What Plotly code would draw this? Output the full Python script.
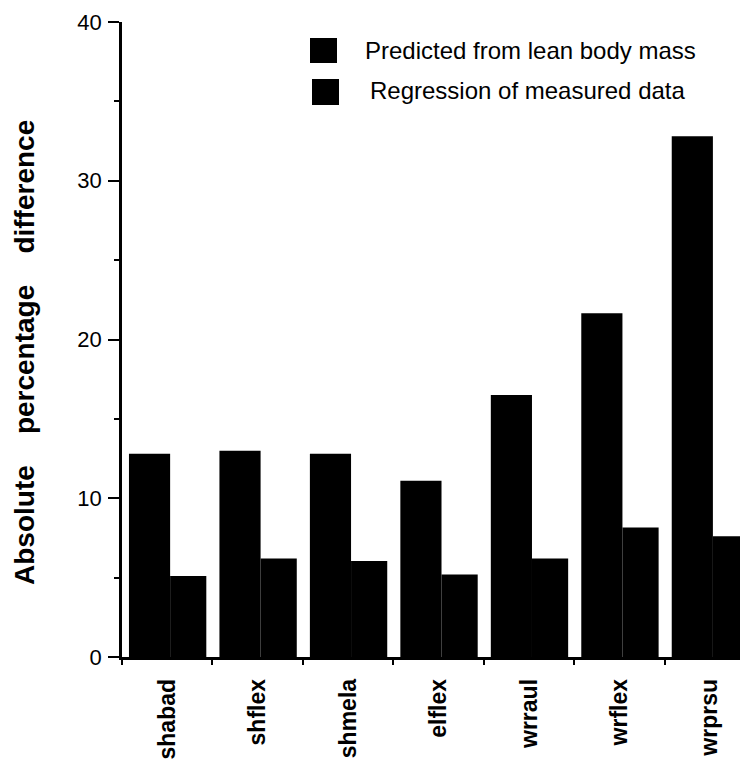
import plotly.graph_objects as go

categories = ["shabad", "shflex", "shmela", "elflex", "wrraul", "wrflex", "wrprsu"]
predicted_lbm = [12.8, 13.0, 12.8, 11.1, 16.5, 21.65, 32.8]
regression_measured = [5.1, 6.2, 6.05, 5.2, 6.2, 8.15, 7.6]
series_names = ["Predicted from lean body mass", "Regression of measured data"]
y_tick_values = [0, 10, 20, 30, 40]

# page is 748x765, the html body adds an 8px margin around the figure
OFF = 8
W, H = 748 - OFF, 765 - OFF
L, R, T, B = 122 - OFF, 0, 22 - OFF, 765 - 657
PW, PH = W - L - R, H - T - B

def px2paper(x, y):
    # x, y given in page pixels
    return (x - OFF - L) / PW, (H - B - (y - OFF)) / PH

fig = go.Figure()
fig.add_trace(go.Bar(x=categories, y=predicted_lbm, name=series_names[0],
                     marker=dict(color="black", line=dict(width=0)),
                     width=0.455, offset=-0.423, showlegend=False))
fig.add_trace(go.Bar(x=categories, y=regression_measured, name=series_names[1],
                     marker=dict(color="black", line=dict(width=0)),
                     width=0.40, offset=0.032, showlegend=False))

font_family = "Liberation Sans, Arial, Helvetica, sans-serif"

fig.update_layout(
    template="none",
    width=W, height=H,
    margin=dict(l=L, r=R, t=T, b=B, pad=0, autoexpand=False),
    paper_bgcolor="white", plot_bgcolor="white",
    barmode="overlay",
    font=dict(family=font_family, color="black"),
    xaxis=dict(
        type="category", range=[-0.5, 6.42], automargin=False,
        showline=True, linecolor="black", linewidth=2.5,
        ticks="outside", tickson="boundaries", ticklen=5, tickwidth=2, tickcolor="black",
        tickangle=-90, tickfont=dict(size=23, family=font_family, weight="bold"),
        showgrid=False, zeroline=False, ticklabelstandoff=10, ticklabeloverflow="allow",
    ),
    yaxis=dict(
        range=[0, 40], tickvals=y_tick_values, automargin=False,
        showline=True, linecolor="black", linewidth=2.5,
        ticks="outside", ticklen=11, tickwidth=2, tickcolor="black",
        tickfont=dict(size=22, family=font_family),
        minor=dict(dtick=5, tick0=0, ticks="outside", ticklen=5, tickwidth=2, tickcolor="black", showgrid=False),
        showgrid=False, zeroline=False, ticklabelstandoff=2, ticklabeloverflow="allow",
    ),
)

# y-axis title
tx, ty = px2paper(24, 353)
fig.add_annotation(
    text="Absolute\u00a0\u00a0\u00a0\u00a0percentage\u00a0\u00a0\u00a0\u00a0difference",
    xref="paper", yref="paper", x=tx, y=ty, xanchor="center", yanchor="middle",
    textangle=-90, showarrow=False,
    font=dict(size=28, family=font_family, weight="bold", color="black"),
)

# legend drawn manually
legend_boxes = [(310, 38, 337, 63), (312, 79, 339, 105)]
legend_text_pos = [(363, 51), (368, 90)]
for (x0, y0, x1, y1), (lx, ly), name in zip(legend_boxes, legend_text_pos, series_names):
    px0, py0 = px2paper(x0, y0)
    px1, py1 = px2paper(x1, y1)
    fig.add_shape(type="rect", xref="paper", yref="paper", x0=px0, x1=px1, y0=py1, y1=py0,
                  fillcolor="black", line=dict(width=0))
    ax, ay = px2paper(lx, ly)
    fig.add_annotation(text=name, xref="paper", yref="paper", x=ax, y=ay,
                       xanchor="left", yanchor="middle", showarrow=False,
                       font=dict(size=24, family=font_family, color="black"))

fig.write_html("out.html")
